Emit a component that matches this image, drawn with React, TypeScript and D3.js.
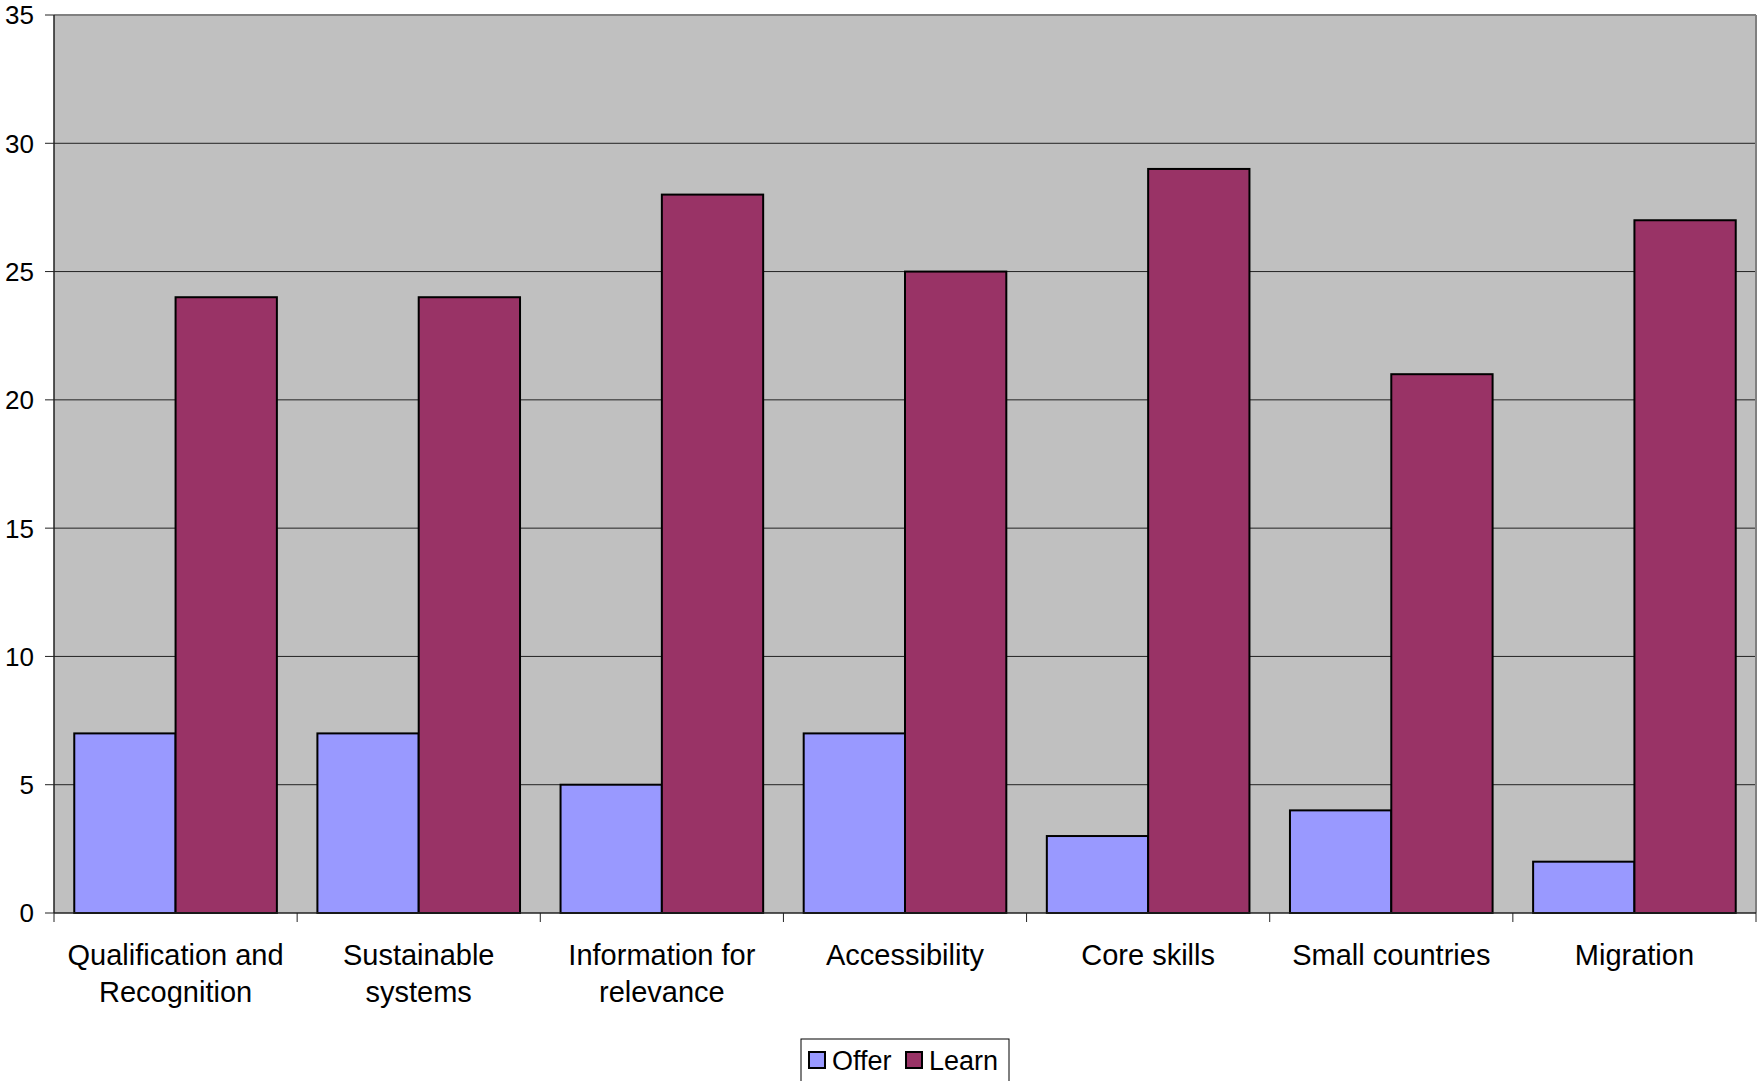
import React from "react";
import * as d3 from "d3";

const categories = [
  ["Qualification and", "Recognition"],
  ["Sustainable", "systems"],
  ["Information for", "relevance"],
  ["Accessibility"],
  ["Core skills"],
  ["Small countries"],
  ["Migration"],
];
const offer = [7, 7, 5, 7, 3, 4, 2];
const learn = [24, 24, 28, 25, 29, 21, 27];
const yTicks = [0, 5, 10, 15, 20, 25, 30, 35];
const seriesNames = ["Offer", "Learn"];
const colors = ["#9999FF", "#993366"];

const W = 1757, H = 1081;
const left = 54, right = 1756, top = 15, bottom = 913;

export default function App() {
  const x = d3.scaleBand<number>().domain(categories.map((_, i) => i)).range([left, right]).paddingInner(0).paddingOuter(0);
  const inner = d3.scaleBand<number>().domain([0, 1]).range([0, x.bandwidth()]).paddingInner(0).paddingOuter(0.2);
  const y = d3.scaleLinear().domain([0, 35]).range([bottom, top]);
  const font = "'Liberation Sans', Arial, sans-serif";
  const series = [offer, learn];
  return (
    <svg width={W} height={H} style={{ position: "absolute", left: 0, top: 0, display: "block" }} fontFamily={font}>
      <rect x={0} y={0} width={W} height={H} fill="#fff" />
      <rect x={left} y={top} width={right - left} height={bottom - top} fill="#C0C0C0" />
      {yTicks.map((t) => (
        <g key={t}>
          {t > 0 && t < 35 && <line x1={left} x2={right} y1={y(t)} y2={y(t)} stroke="#222" strokeWidth={1} />}
          <line x1={left - 9} x2={left} y1={y(t)} y2={y(t)} stroke="#222" strokeWidth={1} />
          <text x={34} y={y(t)} dy="0.36em" textAnchor="end" fontSize={26} fill="#000">{t}</text>
        </g>
      ))}
      <line x1={left} x2={right} y1={top} y2={top} stroke="#808080" strokeWidth={2} />
      <line x1={right} x2={right} y1={top} y2={bottom} stroke="#808080" strokeWidth={2} />
      {categories.map((_, i) =>
        series.map((vals, s) => (
          <rect key={`${i}-${s}`} x={(x(i) as number) + (inner(s) as number)} y={y(vals[i])} width={inner.bandwidth()} height={y(0) - y(vals[i])} fill={colors[s]} stroke="#000" strokeWidth={2} />
        ))
      )}
      <line x1={left} x2={left} y1={top} y2={bottom} stroke="#222" strokeWidth={1.5} />
      <line x1={left} x2={right} y1={bottom} y2={bottom} stroke="#222" strokeWidth={1.5} />
      {d3.range(categories.length + 1).map((i) => {
        const xx = left + i * x.bandwidth();
        return <line key={i} x1={xx} x2={xx} y1={bottom} y2={bottom + 9} stroke="#222" strokeWidth={1} />;
      })}
      {categories.map((lines, i) => (
        <text key={i} x={(x(i) as number) + x.bandwidth() / 2} y={965} textAnchor="middle" fontSize={29} fill="#000">
          {lines.map((l, j) => (
            <tspan key={j} x={(x(i) as number) + x.bandwidth() / 2} y={965 + j * 37}>{l}</tspan>
          ))}
        </text>
      ))}
      <g>
        <rect x={801} y={1039} width={208} height={50} fill="#fff" stroke="#000" strokeWidth={1} />
        {seriesNames.map((n, s) => {
          const ox = s === 0 ? 809 : 906;
          return (
            <g key={n}>
              <rect x={ox} y={1052} width={16} height={16} fill={colors[s]} stroke="#000" strokeWidth={2} />
              <text x={ox + 23} y={1070} fontSize={27} fill="#000">{n}</text>
            </g>
          );
        })}
      </g>
    </svg>
  );
}
